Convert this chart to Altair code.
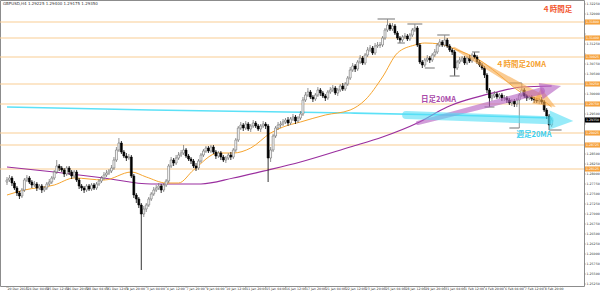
import altair as alt
import pandas as pd

header_text = "GBPUSD,H4  1.29225 1.29400 1.29175 1.29350"

opens = [
    1.27800, 1.27850, 1.27900, 1.27775, 1.27650, 1.27525, 1.27450, 1.27600, 1.27850, 1.27900,
    1.27800, 1.27725, 1.27750, 1.27650, 1.27700, 1.27600, 1.27650, 1.27750, 1.27800, 1.27900,
    1.28050, 1.28200, 1.28150, 1.28100, 1.28000, 1.28150, 1.28050, 1.27950, 1.28050, 1.27850,
    1.27700, 1.27650, 1.27600, 1.27700, 1.27625, 1.27725, 1.27650, 1.27750, 1.27825, 1.27900,
    1.27975, 1.28025, 1.28075, 1.28150, 1.28350, 1.28600, 1.28775, 1.28550, 1.28450, 1.28400,
    1.28425, 1.27950, 1.27475, 1.27375, 1.27225, 1.27000, 1.27125, 1.27225, 1.27375, 1.27500,
    1.27600, 1.27650, 1.27700, 1.27600, 1.27725, 1.27825, 1.28200, 1.28350, 1.28275, 1.28400,
    1.28475, 1.28525, 1.28600, 1.28450, 1.28375, 1.28325, 1.28200, 1.28150, 1.28325, 1.28475,
    1.28575, 1.28650, 1.28575, 1.28675, 1.28550, 1.28450, 1.28525, 1.28425, 1.28350, 1.28400,
    1.28475, 1.28425, 1.28600, 1.28850, 1.29150, 1.29225, 1.29150, 1.29250, 1.29125, 1.29200,
    1.29275, 1.29200, 1.29125, 1.29200, 1.29250, 1.29200, 1.28400, 1.28600, 1.28950, 1.29150,
    1.29225, 1.29250, 1.29300, 1.29350, 1.29275, 1.29375, 1.29425, 1.29325, 1.29400, 1.29500,
    1.29850, 1.29975, 1.30050, 1.29925, 1.29875, 1.29975, 1.30100, 1.30025, 1.29950, 1.29900,
    1.30050, 1.30100, 1.30150, 1.30025, 1.30100, 1.30200, 1.30125, 1.30250, 1.30400, 1.30600,
    1.30700, 1.30625, 1.30800, 1.30900, 1.30775, 1.30975, 1.31100, 1.31150, 1.31025, 1.31200,
    1.31225, 1.31225, 1.31400, 1.31600, 1.31725, 1.31625, 1.31700, 1.31525, 1.31400, 1.31350,
    1.31425, 1.31450, 1.31375, 1.31475, 1.31600, 1.31650, 1.31225, 1.30800, 1.30725, 1.30850,
    1.30900, 1.30850, 1.30975, 1.31050, 1.31225, 1.31300, 1.31225, 1.31350, 1.31200, 1.31100,
    1.31050, 1.30650, 1.30800, 1.30850, 1.30900, 1.30775, 1.30900, 1.30825, 1.30975, 1.30925,
    1.30800, 1.30725, 1.30650, 1.30475, 1.30100, 1.29900, 1.29950, 1.30000, 1.29925, 1.29975,
    1.29900, 1.29900, 1.29850, 1.29775, 1.29825, 1.29750, 1.29850, 1.29975, 1.30100, 1.29950,
    1.29900, 1.29925, 1.29875, 1.29850, 1.29825, 1.29850, 1.29800, 1.29600, 1.29450, 1.29225,
]

highs = [
    1.27925, 1.27975, 1.27950, 1.27825, 1.27700, 1.27575, 1.27650, 1.27900, 1.27975, 1.27950,
    1.27850, 1.27825, 1.27800, 1.27750, 1.27750, 1.27700, 1.27800, 1.27875, 1.27950, 1.28100,
    1.28350, 1.28250, 1.28200, 1.28150, 1.28200, 1.28200, 1.28100, 1.28100, 1.28100, 1.27900,
    1.27750, 1.27700, 1.27750, 1.27750, 1.27775, 1.27775, 1.27800, 1.27875, 1.27950, 1.28050,
    1.28100, 1.28125, 1.28225, 1.28425, 1.28675, 1.28900, 1.28825, 1.28600, 1.28525, 1.28500,
    1.28475, 1.28000, 1.27525, 1.27425, 1.27275, 1.27200, 1.27275, 1.27425, 1.27550, 1.27675,
    1.27725, 1.27775, 1.27750, 1.27775, 1.27875, 1.28250, 1.28425, 1.28400, 1.28475, 1.28550,
    1.28600, 1.28725, 1.28650, 1.28500, 1.28425, 1.28375, 1.28275, 1.28375, 1.28525, 1.28625,
    1.28700, 1.28700, 1.28725, 1.28725, 1.28600, 1.28575, 1.28575, 1.28475, 1.28450, 1.28525,
    1.28550, 1.28650, 1.28900, 1.29200, 1.29300, 1.29275, 1.29325, 1.29300, 1.29250, 1.29350,
    1.29325, 1.29250, 1.29250, 1.29325, 1.29300, 1.29250, 1.28675, 1.29000, 1.29200, 1.29300,
    1.29325, 1.29375, 1.29400, 1.29425, 1.29425, 1.29500, 1.29475, 1.29450, 1.29575, 1.29925,
    1.30050, 1.30150, 1.30100, 1.29975, 1.30025, 1.30175, 1.30150, 1.30075, 1.30000, 1.30100,
    1.30175, 1.30225, 1.30200, 1.30150, 1.30250, 1.30275, 1.30300, 1.30450, 1.30675, 1.30775,
    1.30750, 1.30850, 1.30975, 1.30950, 1.31025, 1.31175, 1.31225, 1.31200, 1.31275, 1.31300,
    1.31300, 1.31450, 1.31650, 1.31875, 1.31775, 1.31775, 1.31750, 1.31575, 1.31450, 1.31475,
    1.31525, 1.31500, 1.31525, 1.31650, 1.31750, 1.31700, 1.31275, 1.30850, 1.30900, 1.30975,
    1.30950, 1.31025, 1.31125, 1.31275, 1.31375, 1.31350, 1.31475, 1.31400, 1.31250, 1.31150,
    1.31100, 1.30850, 1.30925, 1.30950, 1.30950, 1.30950, 1.30975, 1.31025, 1.31050, 1.30975,
    1.30850, 1.30775, 1.30700, 1.30525, 1.30150, 1.30000, 1.30075, 1.30050, 1.30025, 1.30025,
    1.29975, 1.29950, 1.29900, 1.29875, 1.29875, 1.29900, 1.30025, 1.30275, 1.30150, 1.30000,
    1.29975, 1.29975, 1.29925, 1.29900, 1.29900, 1.29925, 1.29850, 1.29650, 1.29500, 1.29400,
]

lows = [
    1.27725, 1.27800, 1.27700, 1.27600, 1.27450, 1.27375, 1.27400, 1.27550, 1.27800, 1.27750,
    1.27650, 1.27675, 1.27575, 1.27600, 1.27525, 1.27550, 1.27600, 1.27700, 1.27750, 1.27850,
    1.28000, 1.28075, 1.28050, 1.27925, 1.27950, 1.27975, 1.27875, 1.27900, 1.27800, 1.27625,
    1.27575, 1.27525, 1.27550, 1.27575, 1.27575, 1.27600, 1.27600, 1.27700, 1.27775, 1.27850,
    1.27925, 1.27975, 1.28025, 1.28100, 1.28300, 1.28550, 1.28500, 1.28400, 1.28325, 1.28350,
    1.27900, 1.27400, 1.27275, 1.27150, 1.25600, 1.26925, 1.27050, 1.27175, 1.27325, 1.27450,
    1.27550, 1.27600, 1.27525, 1.27550, 1.27675, 1.27775, 1.28150, 1.28200, 1.28225, 1.28350,
    1.28425, 1.28475, 1.28400, 1.28325, 1.28250, 1.28150, 1.28075, 1.28100, 1.28275, 1.28425,
    1.28525, 1.28525, 1.28525, 1.28500, 1.28375, 1.28400, 1.28350, 1.28300, 1.28275, 1.28350,
    1.28350, 1.28375, 1.28550, 1.28800, 1.29100, 1.29075, 1.29100, 1.29075, 1.29050, 1.29150,
    1.29150, 1.29075, 1.29050, 1.29150, 1.29125, 1.27800, 1.28300, 1.28550, 1.28900, 1.29100,
    1.29150, 1.29200, 1.29250, 1.29200, 1.29225, 1.29325, 1.29250, 1.29275, 1.29350, 1.29450,
    1.29800, 1.29925, 1.29875, 1.29800, 1.29825, 1.29925, 1.29950, 1.29900, 1.29825, 1.29850,
    1.30000, 1.30050, 1.29975, 1.29950, 1.30050, 1.30075, 1.30075, 1.30200, 1.30350, 1.30550,
    1.30550, 1.30575, 1.30750, 1.30725, 1.30725, 1.30925, 1.31050, 1.30975, 1.30975, 1.31150,
    1.31150, 1.31175, 1.31350, 1.31550, 1.31575, 1.31575, 1.31475, 1.31350, 1.31275, 1.31300,
    1.31375, 1.31325, 1.31325, 1.31425, 1.31550, 1.31175, 1.30750, 1.30650, 1.30675, 1.30800,
    1.30775, 1.30800, 1.30925, 1.31000, 1.31175, 1.31175, 1.31175, 1.31150, 1.31050, 1.30975,
    1.30450, 1.30600, 1.30750, 1.30800, 1.30725, 1.30725, 1.30775, 1.30775, 1.30875, 1.30750,
    1.30675, 1.30600, 1.30400, 1.30025, 1.29675, 1.29825, 1.29900, 1.29875, 1.29875, 1.29825,
    1.29825, 1.29775, 1.29725, 1.29700, 1.29675, 1.29675, 1.29150, 1.29925, 1.29900, 1.29825,
    1.29850, 1.29825, 1.29775, 1.29775, 1.29750, 1.29750, 1.29550, 1.29375, 1.29100, 1.29175,
]

closes = [
    1.27850, 1.27900, 1.27775, 1.27650, 1.27525, 1.27450, 1.27600, 1.27850, 1.27900, 1.27800,
    1.27725, 1.27750, 1.27650, 1.27700, 1.27600, 1.27650, 1.27750, 1.27800, 1.27900, 1.28050,
    1.28200, 1.28150, 1.28100, 1.28000, 1.28150, 1.28050, 1.27950, 1.28050, 1.27850, 1.27700,
    1.27650, 1.27600, 1.27700, 1.27625, 1.27725, 1.27650, 1.27750, 1.27825, 1.27900, 1.27975,
    1.28025, 1.28075, 1.28150, 1.28350, 1.28600, 1.28775, 1.28550, 1.28450, 1.28400, 1.28425,
    1.27950, 1.27475, 1.27375, 1.27225, 1.27000, 1.27125, 1.27225, 1.27375, 1.27500, 1.27600,
    1.27650, 1.27700, 1.27600, 1.27725, 1.27825, 1.28200, 1.28350, 1.28275, 1.28400, 1.28475,
    1.28525, 1.28600, 1.28450, 1.28375, 1.28325, 1.28200, 1.28150, 1.28325, 1.28475, 1.28575,
    1.28650, 1.28575, 1.28675, 1.28550, 1.28450, 1.28525, 1.28425, 1.28350, 1.28400, 1.28475,
    1.28425, 1.28600, 1.28850, 1.29150, 1.29225, 1.29150, 1.29250, 1.29125, 1.29200, 1.29275,
    1.29200, 1.29125, 1.29200, 1.29250, 1.29200, 1.28400, 1.28600, 1.28950, 1.29150, 1.29225,
    1.29250, 1.29300, 1.29350, 1.29275, 1.29375, 1.29425, 1.29325, 1.29400, 1.29500, 1.29850,
    1.29975, 1.30050, 1.29925, 1.29875, 1.29975, 1.30100, 1.30025, 1.29950, 1.29900, 1.30050,
    1.30100, 1.30150, 1.30025, 1.30100, 1.30200, 1.30125, 1.30250, 1.30400, 1.30600, 1.30700,
    1.30625, 1.30800, 1.30900, 1.30775, 1.30975, 1.31100, 1.31150, 1.31025, 1.31200, 1.31225,
    1.31225, 1.31400, 1.31600, 1.31725, 1.31625, 1.31700, 1.31525, 1.31400, 1.31350, 1.31425,
    1.31450, 1.31375, 1.31475, 1.31600, 1.31650, 1.31225, 1.30800, 1.30725, 1.30850, 1.30900,
    1.30850, 1.30975, 1.31050, 1.31225, 1.31300, 1.31225, 1.31350, 1.31200, 1.31100, 1.31050,
    1.30650, 1.30800, 1.30850, 1.30900, 1.30775, 1.30900, 1.30825, 1.30975, 1.30925, 1.30800,
    1.30725, 1.30650, 1.30475, 1.30100, 1.29900, 1.29950, 1.30000, 1.29925, 1.29975, 1.29900,
    1.29900, 1.29850, 1.29775, 1.29825, 1.29750, 1.29850, 1.29975, 1.30100, 1.29950, 1.29900,
    1.29925, 1.29875, 1.29850, 1.29825, 1.29850, 1.29800, 1.29600, 1.29450, 1.29225, 1.29350,
]

x_tick_bars = [0, 8, 16, 24, 32, 40, 48, 56, 64, 72, 80, 88, 96, 104,
               112, 120, 128, 136, 144, 152, 160, 168, 176, 184, 192, 200, 208, 216]
x_tick_labels = [
    "20 Dec 2018", "24 Dec 04:00", "25 Dec 12:00", "26 Dec 20:00", "28 Dec 04:00",
    "31 Dec 12:00", "1 Jan 20:00", "3 Jan 04:00", "4 Jan 12:00", "7 Jan 20:00",
    "9 Jan 04:00", "10 Jan 12:00", "11 Jan 20:00", "15 Jan 04:00", "16 Jan 12:00",
    "17 Jan 20:00", "21 Jan 04:00", "22 Jan 12:00", "23 Jan 20:00", "25 Jan 04:00",
    "28 Jan 12:00", "29 Jan 20:00", "31 Jan 04:00", "1 Feb 12:00", "4 Feb 20:00",
    "6 Feb 04:00", "7 Feb 12:00", "8 Feb 20:00",
]

y_ticks = [
    1.25250, 1.25500, 1.25750, 1.26000, 1.26250, 1.26500, 1.26750, 1.27000,
    1.27250, 1.27500, 1.27750, 1.28000, 1.28250, 1.28500, 1.28750, 1.29000,
    1.29250, 1.29500, 1.29750, 1.30000, 1.30250, 1.30500, 1.30750, 1.31000,
    1.31250, 1.31500, 1.31750, 1.32000, 1.32250,
]

level_prices = [1.31800, 1.31400, 1.30925, 1.30250, 1.29750, 1.29025, 1.28725, 1.28125]
current_price = 1.29350

ma4h_bars = [0, 7, 19, 27, 39, 50, 56, 64, 69, 75, 85, 91, 98, 106, 111, 118, 128, 138,
             144, 151, 157, 164, 168, 174, 181, 190, 197, 207, 217, 219]
ma4h_vals = [1.27475, 1.27600, 1.27725, 1.27900, 1.27850, 1.28050, 1.27925, 1.27775,
             1.27775, 1.28100, 1.28525, 1.28525, 1.28650, 1.29025, 1.29175, 1.29300,
             1.29475, 1.29600, 1.29850, 1.30425, 1.31025, 1.31225, 1.31275, 1.31250,
             1.31100, 1.30850, 1.30525, 1.30025, 1.29775, 1.29675]

ma_day_bars = [0, 19, 39, 58, 78, 91, 105, 118, 138, 151, 165, 177, 197, 207, 219]
ma_day_vals = [1.28175, 1.28050, 1.27900, 1.27750, 1.27750, 1.27900, 1.28100, 1.28300,
               1.28675, 1.28925, 1.29275, 1.29675, 1.30050, 1.30175, 1.30200]

ma_week_bars = [0, 58, 138, 177, 219]
ma_week_vals = [1.29675, 1.29600, 1.29525, 1.29475, 1.29400]

marker_start = [149, 161, 157, 173, 168, 178, 187, 192, 202, 202, 218]
marker_end = [156, 167, 160, 178, 172, 182, 190, 196, 207, 206, 223]
marker_price = [1.31875, 1.31750, 1.31275, 1.31475, 1.30650, 1.30450, 1.31050,
                1.29675, 1.30275, 1.29150, 1.29100]

# arrows: shaft start -> shaft end, head centre, head angle
arrow_names = ["h4", "day", "week"]
arrow_colors = ["#f6a94a", "#b35cc0", "#52def5"]
arrow_x0 = [179.8, 165.2, 160.5]
arrow_y0 = [1.31150, 1.29275, 1.29475]
arrow_x1 = [213.0, 214.9, 218.2]
arrow_y1 = [1.29950, 1.30078, 1.29345]
arrow_hx = [216.8, 218.7, 222.9]
arrow_hy = [1.29813, 1.30138, 1.29335]
arrow_angle = [30, 346, 2]
arrow_w0 = [2.5, 4, 8]
arrow_w1 = [8, 7, 8]
arrow_head = [484, 440, 576]

label_texts = ["４時間足", "４時間足20MA", "日足20MA", "週足20MA"]
label_bars = [221.3, 206.7, 173.5, 211.9]
label_prices = [1.32100, 1.30725, 1.29850, 1.28975]
label_colors = ["#f2542d", "#f5a02c", "#a94aa9", "#3ccfee"]

# ---------------------------------------------------------------
W, H = 584, 286
xsc = alt.Scale(domain=[-0.8, 230], nice=False, zero=False)
ysc = alt.Scale(domain=[1.2520, 1.3235], nice=False, zero=False)

def X(field):
    return alt.X(field, scale=xsc, axis=None, title=None)

def Y(field):
    return alt.Y(field, scale=ysc, axis=None, title=None)

df = pd.DataFrame({"bar": list(range(len(closes))), "open": opens, "high": highs,
                   "low": lows, "close": closes})
up = df[df["close"] >= df["open"]]
down = df[df["close"] < df["open"]]

levels = pd.DataFrame({"price": level_prices,
                       "txt": ["%.5f" % p for p in level_prices]})
xt = pd.DataFrame({"bar": x_tick_bars, "lab": x_tick_labels})
# price-scale labels hidden behind a level / current-price box are not drawn
boxed = level_prices + [current_price]
yt = pd.DataFrame({"price": y_ticks, "lab": ["%.5f" % v for v in y_ticks]})
yt["hidden"] = [min(abs(v - b) for b in boxed) < 0.0011 for v in y_ticks]
yt_vis = yt[~yt["hidden"]]

# axis-like guides drawn as marks
x_tick_marks = alt.Chart(xt).mark_rule(color="#888888", strokeWidth=0.6).encode(
    x=X("bar:Q"), y=alt.value(H), y2=alt.value(H + 2))
x_tick_text = alt.Chart(xt).mark_text(fontSize=3.2, font="DejaVu Sans", color="#333333",
                                      align="left", baseline="top", dx=0.5).encode(
    x=X("bar:Q"), y=alt.value(H + 1.3), text="lab:N")
y_tick_marks = alt.Chart(yt).mark_rule(color="#888888", strokeWidth=0.6).encode(
    x=alt.value(W), x2=alt.value(W + 2), y=Y("price:Q"))
y_tick_text = alt.Chart(yt_vis).mark_text(fontSize=3.2, font="DejaVu Sans",
                                          color="#333333", align="left",
                                          baseline="middle").encode(
    x=alt.value(W + 2.5), y=Y("price:Q"), text="lab:N")

level_lines = alt.Chart(levels).mark_rule(color="#f9cd93", strokeWidth=1).encode(
    x=alt.value(0), x2=alt.value(W), y=Y("price:Q"))

def ma_line(bars, vals, color, width):
    d = pd.DataFrame({"bar": bars, "val": vals})
    return alt.Chart(d).mark_line(color=color, strokeWidth=width,
                                  interpolate="monotone").encode(
        x=X("bar:Q"), y=Y("val:Q"))

week_line = ma_line(ma_week_bars, ma_week_vals, "#5ce1f7", 1.6)
day_line = ma_line(ma_day_bars, ma_day_vals, "#9a2f9f", 1.2)
h4_line = ma_line(ma4h_bars, ma4h_vals, "#f6a530", 1.0)

def wicks(d, color):
    return alt.Chart(d).mark_rule(color=color, strokeWidth=0.8).encode(
        x=X("bar:Q"), y=Y("low:Q"), y2="high:Q")

def bodies(d, fill, stroke):
    return alt.Chart(d).mark_bar(width=1.9, fill=fill, stroke=stroke,
                                 strokeWidth=0.6).encode(
        x=X("bar:Q"), y=Y("open:Q"), y2="close:Q")

markers = alt.Chart(pd.DataFrame({"s": marker_start, "e": marker_end,
                                  "p": marker_price})).mark_rule(
    color="#8a8a8a", strokeWidth=1.2).encode(x=X("s:Q"), x2="e:Q", y=Y("p:Q"))

arrow_layers = []
for k in range(len(arrow_names)):
    shaft = pd.DataFrame({"bar": [arrow_x0[k], arrow_x1[k]],
                          "val": [arrow_y0[k], arrow_y1[k]],
                          "w": [arrow_w0[k], arrow_w1[k]], "o": [0, 1]})
    arrow_layers.append(
        alt.Chart(shaft).mark_trail(color=arrow_colors[k], opacity=0.6).encode(
            x=X("bar:Q"), y=Y("val:Q"),
            size=alt.Size("w:Q", scale=None, legend=None),
            order="o:Q"))
    head = pd.DataFrame({"bar": [arrow_hx[k]], "val": [arrow_hy[k]]})
    arrow_layers.append(
        alt.Chart(head).mark_point(shape="M-1,-0.8L1,0L-1,0.8Z", filled=True,
                                   color=arrow_colors[k], opacity=0.6,
                                   size=arrow_head[k], angle=arrow_angle[k]).encode(
            x=X("bar:Q"), y=Y("val:Q")))

ann = pd.DataFrame({"t": label_texts, "bar": label_bars, "val": label_prices,
                    "c": label_colors})
ann_text = alt.Chart(ann).mark_text(font="Noto Sans CJK JP", fontWeight="bold",
                                    fontSize=7.5, align="center",
                                    baseline="middle").encode(
    x=X("bar:Q"), y=Y("val:Q"), text="t:N",
    color=alt.Color("c:N", scale=None, legend=None))

box_shape = "M-1,-0.34L1,-0.34L1,0.34L-1,0.34Z"
level_boxes = alt.Chart(levels).mark_point(shape=box_shape, filled=True,
                                           color="#f6a23e", opacity=1,
                                           size=15 * 15).encode(
    x=alt.value(592.5), y=Y("price:Q"))
level_txt = alt.Chart(levels).mark_text(fontSize=3.2, color="white",
                                        font="DejaVu Sans",
                                        baseline="middle").encode(
    x=alt.value(592.5), y=Y("price:Q"), text="txt:N")

cur = pd.DataFrame({"price": [current_price], "txt": ["%.5f" % current_price]})
cur_box = alt.Chart(cur).mark_point(shape=box_shape, filled=True, color="#000000",
                                    opacity=1, size=15 * 15).encode(
    x=alt.value(592.5), y=Y("price:Q"))
cur_txt = alt.Chart(cur).mark_text(fontSize=3.2, color="white", font="DejaVu Sans",
                                   baseline="middle").encode(
    x=alt.value(592.5), y=Y("price:Q"), text="txt:N")

head_txt = alt.Chart(pd.DataFrame({"t": [header_text]})).mark_text(
    fontSize=4, font="DejaVu Sans", color="#333333", align="left",
    baseline="middle").encode(x=alt.value(3), y=alt.value(4), text="t:N")

chart = alt.layer(
    level_lines,
    week_line, day_line, h4_line,
    wicks(down, "#000000"),
    wicks(up, "#777777"),
    bodies(up, "#ffffff", "#6a6a6a"),
    bodies(down, "#000000", "#000000"),
    markers,
    *arrow_layers,
    ann_text,
    x_tick_marks, x_tick_text, y_tick_marks, y_tick_text,
    level_boxes, level_txt, cur_box, cur_txt,
    head_txt,
).properties(
    width=W, height=H,
    autosize=alt.AutoSizeParams(type="none"),
    padding={"left": 0, "top": 0, "right": 16, "bottom": 6},
    background="white",
).configure_view(stroke="#8c8c8c", strokeWidth=1)

chart.save("out.html", embed_options={"renderer": "svg", "actions": False})
